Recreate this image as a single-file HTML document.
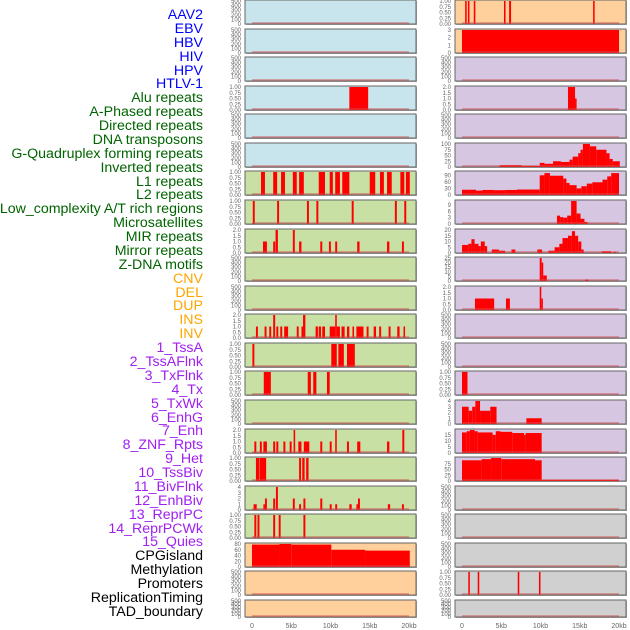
<!DOCTYPE html>
<html><head><meta charset="utf-8">
<style>
body{margin:0;background:#fff;width:630px;height:630px;overflow:hidden;font-family:"Liberation Sans",sans-serif}
#labels div{position:absolute;right:427px;font-size:14.2px;line-height:14px;white-space:nowrap}
</style></head>
<body>
<div id="labels"></div>
<svg id="chart" width="630" height="630" style="position:absolute;left:0;top:0"></svg>
<script>
const labelNames=["AAV2","EBV","HBV","HIV","HPV","HTLV-1","Alu repeats","A-Phased repeats","Directed repeats","DNA transposons","G-Quadruplex forming repeats","Inverted repeats","L1 repeats","L2 repeats","Low_complexity A/T rich regions","Microsatellites","MIR repeats","Mirror repeats","Z-DNA motifs","CNV","DEL","DUP","INS","INV","1_TssA","2_TssAFlnk","3_TxFlnk","4_Tx","5_TxWk","6_EnhG","7_Enh","8_ZNF_Rpts","9_Het","10_TssBiv","11_BivFlnk","12_EnhBiv","13_ReprPC","14_ReprPCWk","15_Quies","CPGisland","Methylation","Promoters","ReplicationTiming","TAD_boundary"];
const labelColors=["#0000ff","#0000ff","#0000ff","#0000ff","#0000ff","#0000ff","#006400","#006400","#006400","#006400","#006400","#006400","#006400","#006400","#006400","#006400","#006400","#006400","#006400","#ffa500","#ffa500","#ffa500","#ffa500","#ffa500","#a020f0","#a020f0","#a020f0","#a020f0","#a020f0","#a020f0","#a020f0","#a020f0","#a020f0","#a020f0","#a020f0","#a020f0","#a020f0","#a020f0","#a020f0","#000","#000","#000","#000","#000"];
const xTickKb=[0,5,10,15,20];
const xTickLabels=["0","5kb","10kb","15kb","20kb"];
const E=[0,100,200,300,400,500], P=[0,0.25,0.5,0.75,1], T=[0,0.5,1,1.5,2];
const leftTicks=[E,E,E,P,E,E,P,P,T,E,E,T,P,P,E,T,P,[0,1,2,3,4],P,[0,20,40,60,80],E,E];
const leftMax=[500,500,500,1,500,500,1,1,2,500,500,2,1,1,500,2,1,4,1,80,500,500];
const rightTicks=[P,[0,1,2,3],E,T,E,[0,25,50,75,100],[0,30,60,90],[0,3,6,9],[0,5,10,15,20],[0,5,10,15,20,25],T,E,E,P,[0,1,2,3,4],[0,5,10,15],[0,25,50,75],E,E,E,P,E];
const rightMax=[1,3,500,2,500,100,105,11,20,25,2,500,500,1,4,19,100,500,500,500,1,500];
const leftColors=["#c8e4ec","#c8e4ec","#c8e4ec","#c8e4ec","#c8e4ec","#c8e4ec","#c8e0a4","#c8e0a4","#c8e0a4","#c8e0a4","#c8e0a4","#c8e0a4","#c8e0a4","#c8e0a4","#c8e0a4","#c8e0a4","#c8e0a4","#c8e0a4","#c8e0a4","#ffd09c","#ffd09c","#ffd09c"];
const rightColors=["#ffd09c","#ffd09c","#d6c6e2","#d6c6e2","#d6c6e2","#d6c6e2","#d6c6e2","#d6c6e2","#d6c6e2","#d6c6e2","#d6c6e2","#d6c6e2","#d6c6e2","#d6c6e2","#d6c6e2","#d6c6e2","#d6c6e2","#d0d0d0","#d0d0d0","#d0d0d0","#d0d0d0","#d0d0d0"];
const leftBars=[[],[],[],[[12.4,14.8,1]],[],[],
[[1.15,1.65,1],[2.7,3.2,1],[3.7,4.2,1],[5.2,5.7,1],[6.0,6.6,1],[8.5,9.3,1],[9.9,10.3,1],[10.6,11.2,1],[11.5,12.4,1],[15,15.7,1],[16.3,16.8,1],[17.2,17.8,1],[18.9,19.4,1],[19.6,20.1,1]],
[[0.1,0.35,1],[3.2,3.45,1],[7.0,7.25,1],[8.2,8.45,1],[12.7,12.95,1],[18.2,18.45,1],[19.4,19.65,1]],
[[1.4,1.9,1],[2.7,2.95,1],[3.0,3.3,2],[5.2,5.45,2],[6.0,6.3,1],[8.7,8.95,1],[9.8,10.05,1],[10.6,10.85,1],[13.4,13.7,1],[17.2,17.5,1],[19.1,19.35,1]],
[],[],
[[0.5,0.75,1],[1.6,1.85,1],[2.2,2.45,1],[2.7,2.95,2],[3.1,3.35,1],[3.6,3.85,1],[4.1,4.6,1],[5.7,5.95,1],[6.3,6.5,1],[6.5,6.8,2],[8.1,8.4,1],[8.5,8.8,1],[8.95,9.3,1],[9.9,10.6,1],[10.6,10.8,2],[10.8,11.2,1],[11.4,11.8,1],[12.1,12.4,1],[12.8,13.0,1],[13.3,14.2,1],[14.6,14.85,1],[15.5,15.8,1],[16.2,16.45,1],[17.4,17.65,1],[18.5,18.8,1],[19.3,19.5,1]],
[[0.05,0.3,1],[10.1,10.8,1],[11.0,11.7,1],[12.1,13.1,1]],
[[1.5,2.4,1],[7.1,7.5,1],[7.8,8.2,1],[9.55,9.9,1]],
[],
[[0.3,0.55,1],[1.0,1.25,1],[1.45,1.9,1],[2.7,2.95,1],[3.1,3.35,1],[4.0,4.25,1],[4.8,5.05,1],[5.3,5.5,2],[5.9,6.3,1],[6.6,7.3,1],[8.7,8.95,1],[9.9,10.15,1],[10.6,10.8,2],[12.1,12.35,1],[13.4,13.8,1],[17.2,17.5,1],[19.15,19.4,2]],
[[0.5,0.95,1],[1.0,1.8,1],[6.0,6.25,1],[6.4,6.7,1],[6.9,7.2,1]],
[[0.2,0.6,1],[1.45,1.65,1],[1.65,1.9,2],[2.7,2.95,2],[3.05,3.3,4],[5.2,5.45,2],[6.0,6.25,1],[6.55,6.8,2],[8.7,8.95,2],[9.9,10.15,1],[10.6,10.85,1],[12.4,12.7,1],[13.3,13.5,1],[13.5,13.75,2],[17.3,17.6,1],[19.1,19.35,1]],
[[0.3,0.55,1],[0.7,0.95,1],[2.7,2.95,1],[3.4,3.65,1],[6.55,6.8,1]],
[[0,3.5,78],[3.5,5.0,80],[5.0,10.1,78],[10.1,14.4,60],[14.4,20.1,57]],
[],[]];
const rightBars=[
[[0.4,0.6,1],[0.75,0.95,1],[1.5,1.7,1],[5.35,5.55,1],[6.0,6.25,1],[16.7,16.9,1]],
[[0,20,3]],[],
[[13.5,14.4,2],[14.4,14.6,1]],[],
[[4.8,7.6,8],[7.6,9.9,5],[9.9,10.5,18],[10.5,11.6,14],[11.6,12.6,25],[12.6,13.7,22],[13.7,14.1,32],[14.1,14.8,45],[14.8,15.1,60],[15.1,15.4,75],[15.4,16.3,100],[16.3,17.1,90],[17.1,18.4,75],[18.4,18.8,60],[18.8,19.2,35],[19.2,20.1,25]],
[[0,1.8,24],[1.8,2.6,20],[2.6,4.0,23],[4.0,5.5,22],[5.5,7.0,23],[7.0,9.9,25],[9.9,10.5,90],[10.5,11.2,100],[11.2,12.9,88],[12.9,13.3,75],[13.3,13.7,55],[13.7,14.6,45],[14.6,15.2,30],[15.2,15.9,40],[15.9,16.6,52],[16.6,17.9,58],[17.9,18.5,70],[18.5,19.0,85],[19.0,20.0,100]],
[[12.1,12.5,4],[12.5,12.9,3.3],[12.9,13.4,3],[13.4,13.9,4],[13.9,14.6,11],[14.6,15.1,5],[15.1,15.6,2.5],[15.6,16.0,1]],
[[0,0.8,7],[0.8,1.2,8],[1.2,1.6,12],[1.6,2.1,8],[2.1,2.4,6],[2.4,2.9,10],[2.9,3.2,6],[3.8,4.7,3],[4.7,5.5,2],[6.3,6.8,3],[9.6,10.2,3],[11.0,11.8,2],[11.8,12.4,5],[12.4,12.8,8],[12.8,13.5,13],[13.5,14.0,15],[14.0,14.4,19],[14.4,14.8,15],[14.8,15.2,10],[15.2,15.5,3],[17.8,19.0,1.5],[19.3,19.6,1]],
[[9.9,10.15,25],[10.15,10.35,20],[10.35,10.8,6],[15.7,16.1,1.5]],
[[1.65,4.1,1],[5.6,6.1,1],[9.9,10.1,2],[10.1,10.3,1]],
[],[],
[[0,0.7,1]],
[[0,0.85,3],[0.85,1.3,2.3],[1.3,1.7,3],[1.7,2.3,4],[2.3,3.6,2.3],[3.6,4.4,3],[8.2,10.15,1]],
[[0,0.6,17],[0.6,1.0,18],[1.0,1.6,19],[1.6,2.0,18],[2.0,3.9,17],[3.9,4.3,15],[4.3,4.9,18],[4.9,6.4,17.5],[6.4,7.9,16.5],[7.9,8.1,15],[8.1,10.15,16.5]],
[[0,2.5,90],[2.5,3.7,95],[3.7,5.0,100],[5.0,9.3,95],[9.3,10.15,90],[10.15,20,5]],
[],[],[],
[[0.8,1.0,1],[2.0,2.2,1],[7.1,7.3,1],[9.8,10.0,1]],
[]];

const NS="http://www.w3.org/2000/svg";
const svg=document.getElementById('chart');
function mk(tag,attrs,parent){const e=document.createElementNS(NS,tag);for(const k in attrs)e.setAttribute(k,attrs[k]);(parent||svg).appendChild(e);return e;}
const lab=document.getElementById('labels');
labelNames.forEach((n,i)=>{const d=document.createElement('div');d.textContent=n;d.style.top=(8+i*13.88)+'px';d.style.color=labelColors[i];


lab.appendChild(d);});
const cols=[{x0:245,x1:416,zero:252,ticks:leftTicks,max:leftMax,colors:leftColors,bars:leftBars,name:'left'},
{x0:455,x1:626,zero:462,ticks:rightTicks,max:rightMax,colors:rightColors,bars:rightBars,name:'right'}];
const kbPx=7.85;
function fmt(v,t){const mx=t[t.length-1];if(mx===1)return v.toFixed(2);if(mx===2)return v.toFixed(1);return String(v);}
cols.forEach(c=>{
 const xs=kb=>c.zero+kb*kbPx;
 for(let r=0;r<22;r++){
  const top=Math.round(r*28.57), h=r===21?17:24, bot=top+h;
  const g=mk('g',{});
  
  
  mk('rect',{x:c.x0+1,y:top+1,width:c.x1-c.x0,height:h,fill:'#aaa'},g);
  mk('rect',{x:c.x0,y:top,width:c.x1-c.x0,height:h,fill:c.colors[r],stroke:'#666','stroke-width':1},g);
  const ymax=c.max[r], yf=v=>bot-v/ymax*(h-1);
  c.bars[r].forEach(b=>{const rc=mk('rect',{x:xs(b[0]),y:yf(b[2]),width:Math.max(1.5,xs(b[1])-xs(b[0])),height:bot-yf(b[2]),fill:'#ff0000'},g);
   
   });
  mk('line',{x1:xs(0),x2:xs(20),y1:bot-1,y2:bot-1,stroke:'#d05050','stroke-opacity':0.6,'stroke-width':1.5},g);
  const t=c.ticks[r];
  t.forEach(v=>{const tx=mk('text',{x:c.x0-4,y:yf(v)+2,'font-size':6,fill:'#666','text-anchor':'end','font-family':'Liberation Sans, sans-serif'},g);tx.textContent=fmt(v,t);
   
   });
 }
 xTickKb.forEach((k,i)=>{const tx=mk('text',{x:xs(k),y:628,'font-size':7,fill:'#666','text-anchor':'middle','font-family':'Liberation Sans, sans-serif'});tx.textContent=xTickLabels[i];
  
  });
});
</script>
</body></html>
